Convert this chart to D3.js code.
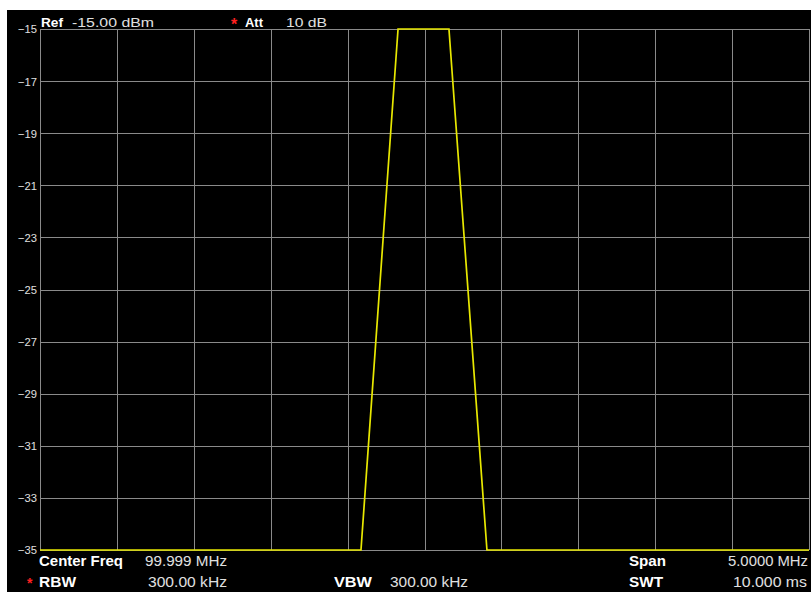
<!DOCTYPE html>
<html>
<head>
<meta charset="utf-8">
<script src="https://cdn.jsdelivr.net/npm/d3@7"></script>
<style>
  html, body { margin: 0; padding: 0; background: #ffffff; }
  svg { display: block; }
  text { font-family: "Liberation Sans", Arial, sans-serif; }
</style>
</head>
<body>
<svg id="chart" width="811" height="592"></svg>
<script>
// ---------- data ----------
const freqMHz   = [97.499, 99.586, 99.827, 100.158, 100.405, 102.499];
const levelDbm  = [-35, -35, -15, -15, -35, -35];
const yTickValues = [-15, -17, -19, -21, -23, -25, -27, -29, -31, -33, -35];
const xGridFreqs  = [97.499, 97.999, 98.499, 98.999, 99.499, 99.999, 100.499, 100.999, 101.499, 101.999, 102.499];
const headerLabels = ["Ref", "Att"];
const headerValues = ["-15.00 dBm", "10 dB"];
const footerLabels = ["Center Freq", "RBW", "VBW", "Span", "SWT"];
const footerValues = ["99.999 MHz", "300.00 kHz", "300.00 kHz", "5.0000 MHz", "10.000 ms"];
const starred      = ["Att", "RBW"];

// ---------- layout ----------
const W = 811, H = 592;
const plot = { left: 40, right: 809, top: 29, bottom: 550 };
const svg = d3.select("#chart");

svg.append("rect").attr("x", 7).attr("y", 10).attr("width", W - 7).attr("height", H - 10).attr("fill", "#000");

const x = d3.scaleLinear().domain([97.499, 102.499]).range([plot.left, plot.right]);
const y = d3.scaleLinear().domain([-35, -15]).range([plot.bottom, plot.top]);

// grid
const grid = svg.append("g").attr("stroke", "#8a8a8a").attr("stroke-width", 1).attr("shape-rendering", "crispEdges");
grid.selectAll("line.v").data(xGridFreqs).join("line").attr("class", "v")
  .attr("x1", d => Math.round(x(d)) + 0.5).attr("x2", d => Math.round(x(d)) + 0.5)
  .attr("y1", plot.top).attr("y2", plot.bottom);
grid.selectAll("line.h").data(yTickValues).join("line").attr("class", "h")
  .attr("x1", plot.left).attr("x2", plot.right)
  .attr("y1", d => Math.round(y(d)) + 0.5).attr("y2", d => Math.round(y(d)) + 0.5);

// y axis labels
const yAxis = d3.axisLeft(y).tickValues(yTickValues).tickSize(0).tickPadding(3).tickFormat(d3.format("d"));
const ya = svg.append("g").attr("transform", `translate(${plot.left},0)`).call(yAxis);
ya.select(".domain").remove();
ya.selectAll("text")
  .attr("fill", "#e0e0e0").attr("font-size", 11.5)
  .attr("dy", "0.34em")
  .attr("x", -3)
  .attr("textLength", 19).attr("lengthAdjust", "spacingAndGlyphs")
  .style("font-family", "'Liberation Sans', Arial, sans-serif");

// trace
const line = d3.line().x((d, i) => x(freqMHz[i])).y((d, i) => y(d));
svg.append("path").datum(levelDbm).attr("d", line)
  .attr("fill", "none").attr("stroke", "#e8e800").attr("stroke-width", 1.7)
  .attr("stroke-linejoin", "miter");

// ---------- info texts ----------
function txt(str, px, py, opts) {
  const t = svg.append("text").text(str).attr("x", px).attr("y", py)
    .attr("fill", opts.fill || "#e6e6e6")
    .attr("font-size", opts.size || 13)
    .attr("font-weight", opts.bold ? "bold" : "normal");
  if (opts.anchor) t.attr("text-anchor", opts.anchor);
  if (opts.len) t.attr("textLength", opts.len).attr("lengthAdjust", "spacingAndGlyphs");
  return t;
}
function star(px, py, size) {
  txt("*", px, py, { fill: "#ff2020", size: size || 15, bold: true });
}

// header
const hdrPos = [{ lx: 41, lw: 22, vx: 72, vw: 82 }, { lx: 245, lw: 18, vx: 286, vw: 41 }];
headerLabels.forEach((lab, i) => {
  const p = hdrPos[i];
  if (starred.includes(lab)) star(p.lx - 14, 30, 16);
  txt(lab, p.lx, 27, { bold: true, fill: "#ffffff", size: 12.5, len: p.lw });
  txt(headerValues[i], p.vx, 27, { size: 12.5, len: p.vw, fill: "#e0e0e0" });
});

// footer
const ftPos = [
  { lx: 39, ly: 566, lw: 84, vx: 145, vw: 82 },
  { lx: 39, ly: 587, lw: 37, vx: 148, vw: 79 },
  { lx: 334, ly: 587, lw: 38, vx: 390, vw: 78 },
  { lx: 629, ly: 566, lw: 37, vx: 728, vw: 80 },
  { lx: 629, ly: 587, lw: 34, vx: 733, vw: 74 }
];
footerLabels.forEach((lab, i) => {
  const p = ftPos[i];
  if (starred.includes(lab)) star(p.lx - 12, p.ly + 1, 14);
  txt(lab, p.lx, p.ly, { bold: true, fill: "#ffffff", size: 14, len: p.lw });
  txt(footerValues[i], p.vx, p.ly, { size: 14, len: p.vw, fill: "#e0e0e0" });
});
</script>
</body>
</html>
